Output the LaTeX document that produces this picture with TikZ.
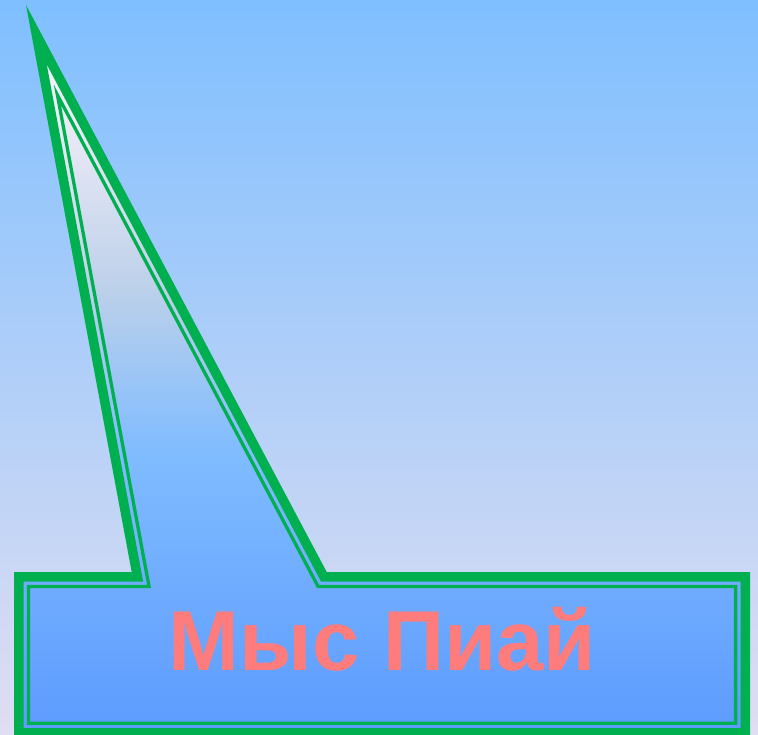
\documentclass[tikz,border=0pt]{standalone}
\usepackage{xcolor}
\usepackage{fontspec}
\setmainfont{Liberation Sans}
\usepackage{tikz}

\definecolor{bgtop}{HTML}{7FBFFF}
\definecolor{bgbottom}{HTML}{E0DEF2}
\definecolor{capegreen}{HTML}{00B050}
\definecolor{capetext}{HTML}{FF7C7C}
\definecolor{fillA}{HTML}{FFFFFF}
\definecolor{fillB}{HTML}{E4E6F4}
\definecolor{fillC}{HTML}{BCD0EA}
\definecolor{fillD}{HTML}{80BCFF}
\definecolor{fillE}{HTML}{5C9AFF}

\begin{document}
\begin{tikzpicture}[x=1pt, y=-1pt,
		outerline/.style={draw=capegreen, line width=9.5pt, line join=miter},
		innerline/.style={draw=capegreen, line width=3.3pt, line join=miter},
		capelabel/.style={text=capetext, font=\fontsize{85}{85}\selectfont\bfseries, inner sep=0pt, anchor=base}]

		\useasboundingbox (0,0) rectangle (758,735);
		\shade[top color=bgtop, bottom color=bgbottom] (0,0) rectangle (758,735);

		% outer green line
		\coordinate (tip) at (36.37,34.68);
		\coordinate (baseL) at (137.42,576.75);
		\coordinate (nw) at (18.75,576.75);
		\coordinate (sw) at (18.75,732.85);
		\coordinate (se) at (745.25,732.85);
		\coordinate (ne) at (745.25,576.75);
		\coordinate (baseR) at (323.84,576.75);

		% inner thin line
		\coordinate (tip2) at (57.43,94.99);
		\coordinate (baseL2) at (149.03,586.4);
		\coordinate (nw2) at (28.4,586.4);
		\coordinate (sw2) at (28.4,723.2);
		\coordinate (se2) at (735.6,723.2);
		\coordinate (ne2) at (735.6,586.4);
		\coordinate (baseR2) at (318.04,586.4);

		\begin{scope}
			\clip (tip) -- (baseL) -- (nw) -- (sw) -- (se) -- (ne) -- (baseR) -- cycle;
			\shade[top color=fillA, bottom color=fillB] (0,0) rectangle (758,151);
			\shade[top color=fillB, bottom color=fillC] (0,150) rectangle (758,291);
			\shade[top color=fillC, bottom color=fillD] (0,290) rectangle (758,451);
			\shade[top color=fillD, bottom color=fillE] (0,450) rectangle (758,740);
		\end{scope}

		\draw[outerline] (tip) -- (baseL) -- (nw) -- (sw) -- (se) -- (ne) -- (baseR) -- cycle;
		\draw[innerline] (tip2) -- (baseL2) -- (nw2) -- (sw2) -- (se2) -- (ne2) -- (baseR2) -- cycle;

		\node[capelabel] (cape) at (382.5,670) {Мыс Пиай};

\end{tikzpicture}
\end{document}
